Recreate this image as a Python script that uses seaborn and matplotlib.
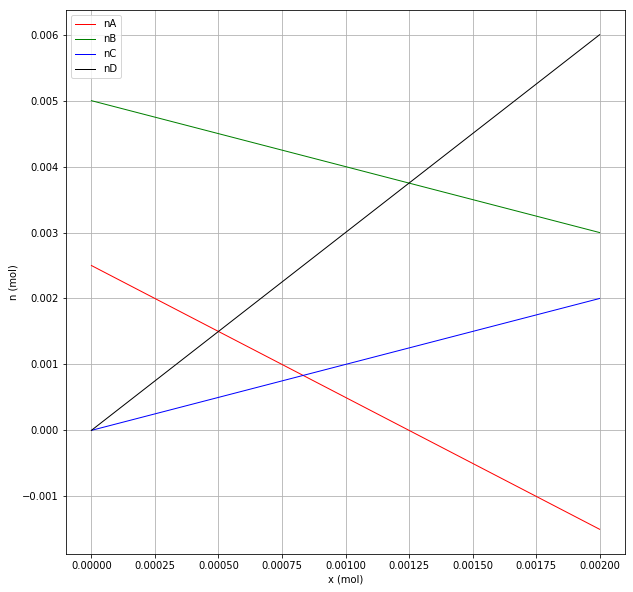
import numpy as np
import pandas as pd
import matplotlib
matplotlib.use("Agg")
import matplotlib.pyplot as plt
import seaborn as sns

# amounts of substance vs advancement x
x = [0.0, 0.0005, 0.001, 0.0015, 0.002]
nA = [0.0025, 0.0015, 0.0005, -0.0005, -0.0015]
nB = [0.005, 0.0045, 0.004, 0.0035, 0.003]
nC = [0.0, 0.0005, 0.001, 0.0015, 0.002]
nD = [0.0, 0.0015, 0.003, 0.0045, 0.006]

names = ["nA", "nB", "nC", "nD"]
colors = ["red", "green", "blue", "black"]

df = pd.DataFrame({"x": x, "nA": nA, "nB": nB, "nC": nC, "nD": nD})

fig = plt.figure(figsize=(633 / 72, 592 / 72), dpi=72)
ax = fig.add_axes([66 / 633, 1 - 554 / 592, (625 - 66) / 633, (554 - 10) / 592])

for name, c in zip(names, colors):
    sns.lineplot(data=df, x="x", y=name, color=c, linewidth=1, label=name, ax=ax)

ax.set_xlabel("x (mol)")
ax.set_ylabel("n (mol)")
ax.set_xticks([0, 0.00025, 0.0005, 0.00075, 0.001, 0.00125, 0.0015, 0.00175, 0.002])
ax.set_xticklabels(["0.00000", "0.00025", "0.00050", "0.00075", "0.00100",
                    "0.00125", "0.00150", "0.00175", "0.00200"])
ax.set_yticks([-0.001, 0, 0.001, 0.002, 0.003, 0.004, 0.005, 0.006])
ax.set_yticklabels(["\u22120.001", "0.000", "0.001", "0.002", "0.003", "0.004", "0.005", "0.006"])
ax.grid(True, color="#b0b0b0", linewidth=0.8)
ax.legend(loc="upper left")

fig.savefig("out.png", dpi=72)
